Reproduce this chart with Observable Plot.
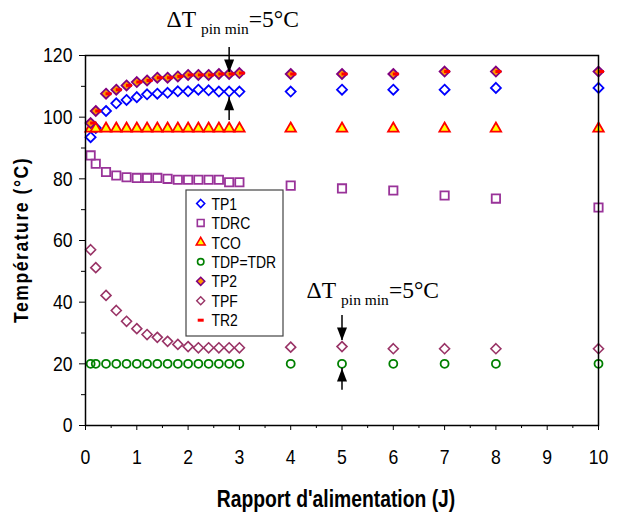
<!DOCTYPE html>
<html><head><meta charset="utf-8">
<script src="https://cdn.jsdelivr.net/npm/d3@7"></script>
<script src="https://cdn.jsdelivr.net/npm/@observablehq/plot@0.6"></script>
<style>
body{margin:0;background:#fff;}
#chart{position:relative;width:617px;height:517px;}
</style></head><body><div id="chart"></div>
<script>
// ---- data ----
const J    = [0.1,0.2,0.4,0.6,0.8,1.0,1.2,1.4,1.6,1.8,2.0,2.2,2.4,2.6,2.8,3.0,4,5,6,7,8,10];
const TP1  = [93.5,96.5,102.0,104.5,105.6,106.5,107.4,107.6,107.9,108.4,108.4,108.9,108.7,108.3,108.3,108.3,108.3,108.9,108.9,108.9,109.5,109.5];
const TDRC = [87.6,84.9,82.2,81.1,80.5,80.3,80.3,80.3,80.0,79.7,79.7,79.7,79.7,79.7,78.9,78.9,77.8,76.9,76.2,74.6,73.6,70.7];
const TCO  = [96.3,96.3,96.3,96.3,96.3,96.3,96.3,96.3,96.3,96.3,96.3,96.3,96.3,96.3,96.3,96.3,96.3,96.3,96.3,96.3,96.3,96.3];
const TDP  = [20,20,20,20,20,20,20,20,20,20,20,20,20,20,20,20,20,20,20,20,20,20];
const TP2  = [98.1,102.0,107.6,108.9,110.3,111.4,111.9,112.8,112.8,113.2,113.7,113.7,113.7,114.0,114.0,114.3,114.0,114.0,114.0,114.8,114.8,114.8];
const TPF  = [57.0,51.2,42.2,37.3,33.8,31.4,29.5,28.6,27.3,26.3,25.6,25.2,25.2,25.2,25.2,25.2,25.4,25.6,24.9,24.9,24.9,24.9];
const TR2  = [98.1,102.0,107.6,108.9,110.3,111.4,111.9,112.8,112.8,113.2,113.7,113.7,113.7,114.0,114.0,114.3,114.0,114.0,114.0,114.8,114.8,114.8];

const seriesNames = ["TP1","TDRC","TCO","TDP=TDR","TP2","TPF","TR2"];
const xTicks = [0,1,2,3,4,5,6,7,8,9,10];
const xMinor = [0.5,1.5,2.5,3.5,4.5,5.5,6.5,7.5,8.5,9.5];
const yTicks = [0,20,40,60,80,100,120];
const yMinor = [10,30,50,70,90,110];

// annotation arrows (J, tail temperature, tip temperature, direction)
const arrowJ    = [2.8, 2.8, 5, 5];
const arrowTail = [122.6, 98.9, 35.7, 11.4];
const arrowTip  = [114.5, 106.5, 27.6, 18.5];
const arrowDir  = ["down","up","down","up"];
const annJ = [1.59, 4.32];
const annT = [129.2, 41.2];

const rows = J.map((j,i)=>({J:j,TP1:TP1[i],TDRC:TDRC[i],TCO:TCO[i],TDP:TDP[i],TP2:TP2[i],TPF:TPF[i],TR2:TR2[i]}));
const arrows = arrowJ.map((x,i)=>({x, tail:arrowTail[i], tip:arrowTip[i], dir:arrowDir[i]}));

const FONT = '"Liberation Sans",Arial,sans-serif';
const SERIF = '"Liberation Serif","Times New Roman",serif';

const dashSym = {draw(ctx){ctx.moveTo(-3,-1.5);ctx.lineTo(3,-1.5);ctx.lineTo(3,1.5);ctx.lineTo(-3,1.5);ctx.closePath();}};
const headSym = {draw(ctx){ctx.moveTo(0,0);ctx.lineTo(-5,-13);ctx.lineTo(5,-13);ctx.closePath();}};

const plot = Plot.plot({
  width:617, height:517,
  marginLeft:85, marginRight:19, marginTop:55, marginBottom:92,
  x:{domain:[0,10]}, y:{domain:[0,120]},
  style:{fontFamily:FONT, background:"white", overflow:"visible", color:"black"},
  marks:[
    Plot.axisY({ticks:yTicks, tickSize:6, tickPadding:7, fontSize:21, label:null}),
    Plot.axisY({ticks:yMinor, tickSize:4, tickFormat:()=>"", label:null}),
    Plot.axisX({ticks:xTicks, tickSize:5, tickPadding:19, fontSize:21, label:null}),
    Plot.axisX({ticks:xMinor, tickSize:3, tickFormat:()=>"", label:null}),
    Plot.dot(rows,{x:"J",y:"TP1",symbol:"diamond2",r:4.5,stroke:"#0000FF",strokeWidth:1.8,fill:"none"}),
    Plot.dot(rows,{x:"J",y:"TDRC",symbol:"square2",r:5.3,stroke:"#993399",strokeWidth:1.8,fill:"none"}),
    Plot.dot(rows,{x:"J",y:"TCO",symbol:"triangle2",r:5,stroke:"#FF0000",strokeWidth:1.8,fill:"#FFFF00"}),
    Plot.dot(rows,{x:"J",y:"TDP",symbol:"circle",r:4,stroke:"#008000",strokeWidth:1.8,fill:"none"}),
    Plot.dot(rows,{x:"J",y:"TP2",symbol:"diamond2",r:4.5,stroke:"#800080",strokeWidth:1.8,fill:"#FF9900"}),
    Plot.dot(rows,{x:"J",y:"TPF",symbol:"diamond2",r:4.5,stroke:"#993366",strokeWidth:1.6,fill:"none"}),
    Plot.dot(rows,{x:"J",y:"TR2",symbol:dashSym,dx:2.5,fill:"#FF0000",stroke:"none"}),
    Plot.frame({stroke:"black",strokeWidth:1.5}),
    Plot.ruleX(arrows,{x:"x",y1:"tail",y2:"tip",stroke:"black",strokeWidth:1.5}),
    Plot.dot(arrows,{x:"x",y:"tip",symbol:headSym,rotate:d=>d.dir==="up"?180:0,fill:"black",stroke:"none"})
  ]
});
document.getElementById("chart").appendChild(plot);

const svg = d3.select(plot);
const xs = plot.scale("x"), ys = plot.scale("y");

// condense a sans text horizontally (the original uses a narrow face)
function narrow(sel, f){
  sel.each(function(){
    const L = this.getComputedTextLength();
    if (L > 0) { this.setAttribute("textLength", (L*f).toFixed(2)); this.setAttribute("lengthAdjust","spacingAndGlyphs"); }
  });
}
narrow(svg.selectAll('g[aria-label$="tick label"] text'), 0.84);

// ΔT annotations
annJ.forEach((j,i)=>{
  const t = svg.append("text").attr("x", xs.apply(j)).attr("y", ys.apply(annT[i]))
    .attr("text-anchor","start")
    .attr("font-family", SERIF).attr("font-size", 23.5).attr("fill","black");
  t.append("tspan").text("ΔT");
  t.append("tspan").attr("font-size",15.5).attr("dx",5).attr("dy",7).text("pin min");
  t.append("tspan").attr("dy",-7).text("=5°C");
});

// axis titles
const yt = svg.append("text").attr("transform","translate(28,240) rotate(-90)")
  .attr("text-anchor","middle").attr("font-family",FONT).attr("font-weight","bold")
  .attr("font-size",21).attr("letter-spacing","1.8px").attr("fill","black").text("Température (°C)");
narrow(yt, 0.84);
const xt = svg.append("text").attr("x",336).attr("y",507)
  .attr("text-anchor","middle").attr("font-family",FONT).attr("font-weight","bold")
  .attr("font-size",23).attr("fill","black").text("Rapport d'alimentation (J)");
narrow(xt, 0.84);

// legend
const lg = svg.append("g");
lg.append("rect").attr("x",186).attr("y",190).attr("width",97).attr("height",146)
  .attr("fill","white").attr("stroke","#444").attr("stroke-width",1.2);
const legSyms = [
  {type:d3.symbolDiamond2, r:3.6, stroke:"#0000FF", fill:"none", sw:1.6},
  {type:d3.symbolSquare2, r:4.3, stroke:"#993399", fill:"none", sw:1.6},
  {type:d3.symbolTriangle2, r:4.2, stroke:"#FF0000", fill:"#FFFF00", sw:1.6},
  {type:d3.symbolCircle, r:3.2, stroke:"#008000", fill:"none", sw:1.6},
  {type:d3.symbolDiamond2, r:3.6, stroke:"#800080", fill:"#FF9900", sw:1.6},
  {type:d3.symbolDiamond2, r:3.6, stroke:"#993366", fill:"none", sw:1.4},
  {type:dashSym, r:3, stroke:"none", fill:"#FF0000", sw:0}
];
seriesNames.forEach((name,i)=>{
  const cy = 203.5 + i*19.45;
  const s = legSyms[i];
  lg.append("path").attr("transform",`translate(200.7,${cy})`)
    .attr("d", d3.symbol().type(s.type).size(Math.PI*s.r*s.r)())
    .attr("fill",s.fill).attr("stroke",s.stroke).attr("stroke-width",s.sw);
  const tx = lg.append("text").attr("x",211.5).attr("y",cy).attr("dy","0.36em")
    .attr("text-anchor","start")
    .attr("font-family",FONT).attr("font-size",17).attr("fill","black").text(name);
  narrow(tx, 0.82);
});
</script></body></html>
